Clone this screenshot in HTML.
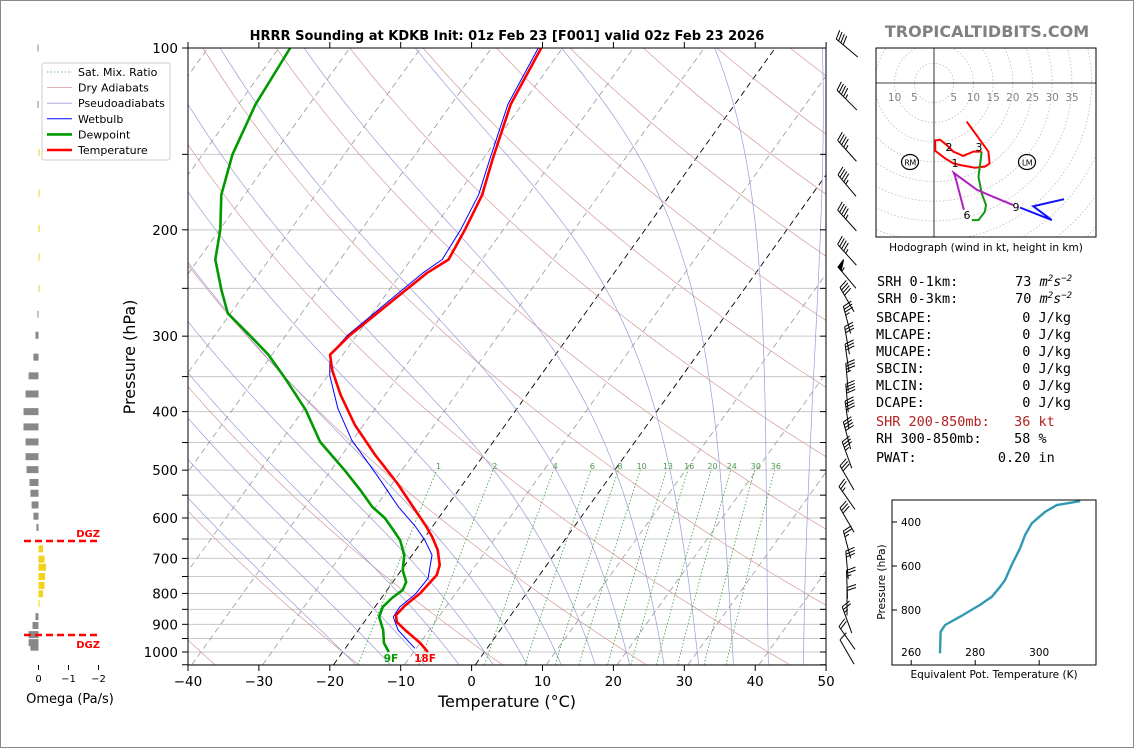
<!DOCTYPE html>
<html><head><meta charset="utf-8"><style>
html,body{margin:0;padding:0;background:#fff;}
svg{display:block;font-family:"DejaVu Sans","Liberation Sans",sans-serif;}
#stats text{white-space:pre;}
</style></head><body>
<svg id="s" width="1134" height="748" viewBox="0 0 1134 748" xmlns="http://www.w3.org/2000/svg">
<defs>
<clipPath id="cm"><rect x="188" y="48" width="638" height="617"/></clipPath>
<clipPath id="ch"><rect x="876" y="48" width="220" height="189"/></clipPath>
<clipPath id="ce"><rect x="892" y="500" width="204" height="165"/></clipPath>
</defs>
<rect x="0.5" y="0.5" width="1133" height="747" fill="#fff" stroke="#888"/>
<text x="507" y="40" text-anchor="middle" font-size="13" font-weight="bold">HRRR Sounding at KDKB Init: 01z Feb 23 [F001] valid 02z Feb 23 2026</text>
<text x="987" y="37" text-anchor="middle" font-size="16" font-weight="bold" fill="#808080">TROPICALTIDBITS.COM</text>
<g id="main"></g>
<g id="omega"></g>
<g id="hodo"></g>
<g id="thetae"></g>
<g id="stats" font-family="'DejaVu Sans Mono','Liberation Mono',monospace" font-size="13.5">
<text x="877" y="286">SRH 0-1km:       73 <tspan font-style="italic">m<tspan font-size="9" dy="-5">2</tspan><tspan dy="5">s</tspan><tspan font-size="9" dy="-5">−2</tspan></tspan></text>
<text x="877" y="303">SRH 0-3km:       70 <tspan font-style="italic">m<tspan font-size="9" dy="-5">2</tspan><tspan dy="5">s</tspan><tspan font-size="9" dy="-5">−2</tspan></tspan></text>
<text x="876" y="322">SBCAPE:           0 J/kg</text>
<text x="876" y="339">MLCAPE:           0 J/kg</text>
<text x="876" y="356">MUCAPE:           0 J/kg</text>
<text x="876" y="373">SBCIN:            0 J/kg</text>
<text x="876" y="390">MLCIN:            0 J/kg</text>
<text x="876" y="407">DCAPE:            0 J/kg</text>
<text x="876" y="426" fill="#b22222">SHR 200-850mb:   36 kt</text>
<text x="876" y="443">RH 300-850mb:    58 %</text>
<text x="876" y="462">PWAT:          0.20 in</text>
</g>
</svg>
<script>
// ---- data ----
const tP=[1000,966,920,892,869,839,799,746,718,678,645,616,571,525,472,421,375,341,322,299,277,256,236,224,200,175,153,124,100];
const tT=[-8.0,-10.0,-13.4,-15.4,-16.2,-15.9,-15.0,-14.5,-15.1,-16.9,-19.0,-21.2,-25.1,-29.4,-35.3,-41.2,-46.3,-50.0,-51.8,-51.0,-49.5,-48.0,-46.4,-44.7,-45.4,-46.5,-48.6,-51.6,-53.0];
const dP=[1000,966,920,875,842,814,790,766,732,691,653,628,600,575,539,500,449,397,352,322,299,275,252,224,200,175,150,124,100];
const dT=[-13.5,-15.1,-16.5,-18.4,-18.9,-18.5,-17.8,-18.1,-19.8,-21.1,-23.2,-25.2,-27.6,-30.5,-33.9,-38.1,-44.4,-49.7,-55.8,-60.5,-65.1,-70.4,-73.6,-77.6,-79.9,-83.3,-85.8,-87.6,-88.4];
const wbP=[986,920,875,842,803,755,691,653,620,575,510,446,395,348,322,299,277,256,236,224,200,175,153,124,100];
const wbT=[-10.2,-14.4,-16.4,-16.5,-15.6,-15.4,-17.2,-19.7,-22.4,-26.8,-33.0,-40.1,-45.3,-49.8,-51.8,-51.3,-49.9,-48.5,-47.0,-45.6,-46.0,-47.0,-49.0,-52.0,-53.4];
const windP=[100,122,148,169,193,220,240,261,282,305,326,351,380,405,438,472,515,556,605,664,718,773,825,885,948,1000];
const windDir=[310,315,318,320,318,318,320,330,345,350,352,355,355,352,345,340,330,325,330,345,355,358,0,340,325,330];
const windSpd=[40,45,45,45,45,45,55,40,35,30,30,35,40,40,40,35,30,25,30,25,30,25,20,25,20,10];
const omegaP=[100,124,149,174,199,222,250,276,299,325,349,374,400,424,449,475,499,524,546,571,596,622,675,702,724,750,776,801,831,874,904,936,965,982];
const omegaV=[0.03,0.03,-0.01,-0.01,-0.01,-0.01,-0.01,0.02,0.1,0.17,0.33,0.43,0.5,0.5,0.43,0.43,0.4,0.3,0.27,0.23,0.17,0.07,-0.15,-0.2,-0.25,-0.22,-0.2,-0.15,-0.03,0.1,0.2,0.33,0.33,0.27];
const mixRatios=[1,2,4,6,8,10,13,16,20,24,30,36];
const tempTicks=[-40,-30,-20,-10,0,10,20,30,40,50];
const presTicks=[100,200,300,400,500,600,700,800,900,1000];
const hodoRed=[[8.3,-9.8],[11.7,-14.5],[13.8,-17.4],[14.1,-20.4],[13.0,-21.2],[10.4,-21.5],[6.6,-20.8],[4.9,-20.4],[2.8,-19.1],[0.3,-17.2],[0.3,-14.6],[1.5,-14.4],[3.2,-15.7],[4.9,-17.4],[7.4,-18.5],[10.0,-17.4],[12.1,-17.4]];
const hodoGreen=[[12.1,-17.4],[11.3,-23.8],[12.1,-28.0],[13.2,-31.0],[12.9,-32.7],[11.3,-34.8],[9.6,-34.8]];
const hodoMag=[[7.6,-32.2],[5.4,-23.8],[5.0,-22.8],[10.9,-27.1],[15.1,-28.9],[20.1,-31.0]];
const hodoBlue=[[21.8,-31.6],[29.9,-34.8],[25.2,-31.3],[33.0,-29.5]];
const thetaP=[997,899,868,830,777,740,694,664,595,520,459,406,353,323,305];
const thetaV=[269.0,269.2,270.6,275.3,281.5,285.2,287.8,289.3,291.4,294.0,295.6,297.7,301.9,305.5,312.8];

const NS="http://www.w3.org/2000/svg";
function mk(tag,attrs,parent){const e=document.createElementNS(NS,tag);for(const k in attrs)e.setAttribute(k,attrs[k]);parent.appendChild(e);return e;}
const yP=p=>48+262.3*Math.log(p/100);
const xT=(T,p)=>188+(T+40)*7.09+(670-yP(p))*0.716;
const pathOf=pts=>pts.map((q,i)=>(i?'L':'M')+q[0].toFixed(1)+' '+q[1].toFixed(1)).join(' ');

const main=document.getElementById('main');
const bg=mk('g',{'clip-path':'url(#cm)'},main);
for(let p=150;p<=1050;p+=50){const l=mk('line',{x1:188,x2:826,y1:yP(p),y2:yP(p),stroke:'#c8c8c8','stroke-width':1},bg);

}
for(let T=-130;T<=50;T+=10){const blk=(T===0||T===-20);const l=mk('line',{x1:xT(T,1050),y1:yP(1050),x2:xT(T,100),y2:yP(100),stroke:blk?'#000':'#999','stroke-width':blk?0.9:0.8,'stroke-dasharray':'6,4'},bg);

}
// dry adiabats every 20 C (at 1000 hPa)
for(let t0=-60;t0<=220;t0+=20){const th=t0+273.15;const pts=[];for(let p=1050;p>=100;p-=10){pts.push([xT(th*Math.pow(p/1000,0.286)-273.15,p),yP(p)]);}
const l=mk('path',{d:pathOf(pts),fill:'none',stroke:'#d49a9a','stroke-width':0.7},bg);

}
// moist adiabats
function grad(T,p){const es=6.112*Math.exp(17.67*(T-273.15)/(T-29.65));const rs=0.622*es/Math.max(p-es,1);return (287*T+2.5e6*rs)/(1004+2.5e6*2.5e6*rs*0.622/(287*T*T))/p;}
for(let T0=-20;T0<=45;T0+=5){let T=T0+273.15;const pts=[];
 for(let p=1000;p<1050;p+=5){T+=grad(T,p)*5;}
 for(let p=1050;p>=100;p-=5){pts.push([xT(T-273.15,p),yP(p)]);T-=grad(T,p)*5;}
 const l=mk('path',{d:pathOf(pts),fill:'none',stroke:'#9a9ad8','stroke-width':0.7},bg);
 
 }
const tdFromW=(w,p)=>{const e=w*p/(622+w);const a=Math.log(e/6.112);return 243.5*a/(17.67-a);};
mixRatios.forEach(w=>{const pts=[];for(let p=1050;p>=500;p-=10)pts.push([xT(tdFromW(w,p),p),yP(p)]);
 const l=mk('path',{d:pathOf(pts),fill:'none',stroke:'#3c9a3c','stroke-width':0.8,'stroke-dasharray':'1.5,2'},bg);
 
 
 const t=mk('text',{x:xT(tdFromW(w,492),492),y:469,'font-size':8,fill:'#4a9a4a','text-anchor':'middle'},bg);t.textContent=w;
 
 });
function prof(P,V,color,w,name){const pts=P.map((p,i)=>[xT(V[i],p),yP(p)]);const l=mk('path',{d:pathOf(pts),fill:'none',stroke:color,'stroke-width':w,'stroke-linejoin':'round'},bg);
 
 }
prof(dP,dT,'#009900',2.6,'dewpoint-line');
prof(wbP,wbT,'#0000ff',1,'wetbulb-line');
prof(tP,tT,'#ff0000',2.6,'temperature-line');
const fr=mk('rect',{x:188,y:48,width:638,height:617,fill:'none',stroke:'#000','stroke-width':1},main);


for(let p=100;p<=1050;p+=50){const y=yP(p);if(y>665)continue;
 const t1=mk('line',{x1:182,x2:188,y1:y,y2:y,stroke:'#000'},main);
 
 
 const t2=mk('line',{x1:820,x2:826,y1:y,y2:y,stroke:'#000'},main);
 
 }
presTicks.forEach(p=>{const t=mk('text',{x:178,y:yP(p)+5,'font-size':13.5,'text-anchor':'end'},main);t.textContent=p;
 
 });
tempTicks.forEach(T=>{const x=188+(T+40)*7.09;
 const l=mk('line',{x1:x,x2:x,y1:665,y2:671,stroke:'#000'},main);
 
 
 const l2=mk('line',{x1:x,x2:x,y1:42,y2:48,stroke:'#000'},main);
 
 
 const t=mk('text',{x:x,y:686,'font-size':13.5,'text-anchor':'middle'},main);t.textContent=(T<0?'−':'')+Math.abs(T);
 
 });
let tx=mk('text',{x:507,y:707,'font-size':16,'text-anchor':'middle'},main);tx.textContent='Temperature (°C)';


tx=mk('text',{x:135,y:357,'font-size':16,'text-anchor':'middle',transform:'rotate(-90 135 357)'},main);tx.textContent='Pressure (hPa)';


tx=mk('text',{x:391,y:662,'font-size':10.5,'font-weight':'bold',fill:'#009900','text-anchor':'middle'},main);tx.textContent='9F';


tx=mk('text',{x:425,y:662,'font-size':10.5,'font-weight':'bold',fill:'#ff0000','text-anchor':'middle'},main);tx.textContent=Math.round(tT[0]*9/5+32)+'F';


const lg=mk('g',{},main);


mk('rect',{x:42,y:63,width:128,height:97,fill:'#fff',stroke:'#ccc',rx:2},lg);
[['Sat. Mix. Ratio','#3c9a3c',0.8,'1.5,2'],['Dry Adiabats','#d49a9a',0.8,''],['Pseudoadiabats','#9a9ad8',0.8,''],['Wetbulb','#0000ff',1,''],['Dewpoint','#009900',2.6,''],['Temperature','#ff0000',2.6,'']].forEach((e,i)=>{const y=72+i*15.6;
 const g=mk('g',{},lg);
 
 
 mk('line',{x1:47,x2:72,y1:y,y2:y,stroke:e[1],'stroke-width':e[2],'stroke-dasharray':e[3]},g);
 const t=mk('text',{x:78,y:y+4,'font-size':11},g);t.textContent=e[0];});
const wb=mk('g',{stroke:'#000','stroke-width':1,fill:'#000'},main);


windP.forEach((p,i)=>{const th=windDir[i]*Math.PI/180;const ux=Math.sin(th),uy=-Math.cos(th);const L=28;
 const cx=847,cy=yP(p);const bx=cx-ux*L/2,by=cy-uy*L/2;const ex=bx+ux*L,ey=by+uy*L;
 const g=mk('g',{},wb);
 
 
 mk('line',{x1:bx,y1:by,x2:ex,y2:ey},g);
 const px=-uy,py=ux;let s=windSpd[i];let d=0;
 while(s>=50){const ax=ex-ux*d,ay=ey-uy*d;mk('path',{d:`M${ax} ${ay}L${ax+px*9+ux*2} ${ay+py*9+uy*2}L${ax-ux*5} ${ay-uy*5}Z`},g);d+=6;s-=50;}
 while(s>=10){const ax=ex-ux*d,ay=ey-uy*d;mk('line',{x1:ax,y1:ay,x2:ax+px*9+ux*3,y2:ay+py*9+uy*3},g);d+=3;s-=10;}
 if(s>=5){if(d===0)d=3;const ax=ex-ux*d,ay=ey-uy*d;mk('line',{x1:ax,y1:ay,x2:ax+px*4.5+ux*1.5,y2:ay+py*4.5+uy*1.5},g);}
});

const om=document.getElementById('omega');
omegaP.forEach((p,i)=>{const v=omegaV[i];const w=Math.max(Math.abs(v)*30,1);const x=v>0?38.5-w:38.5;
 const r=mk('rect',{x:x,y:yP(p)-3.5,width:w,height:7,fill:v>0?'#888':'#f2d21b'},om);
 
 });
[541,635].forEach((y,i)=>{const l=mk('line',{x1:24,x2:99,y1:y,y2:y,stroke:'#ff0000','stroke-width':2.5,'stroke-dasharray':'7,4'},om);
 
 
 const t=mk('text',{x:100,y:i?648:537,'font-size':10,'font-weight':'bold',fill:'#ff0000','text-anchor':'end'},om);t.textContent='DGZ';
 
 });
[0,-1,-2].forEach(v=>{const x=38.5-v*30;mk('line',{x1:x,x2:x,y1:665,y2:670,stroke:'#000'},om);
 const t=mk('text',{x:x,y:682,'font-size':10,'text-anchor':'middle'},om);t.textContent=v===0?'0':'−'+Math.abs(v);
 
 });
tx=mk('text',{x:70,y:703,'font-size':13,'text-anchor':'middle'},om);tx.textContent='Omega (Pa/s)';



const hd=document.getElementById('hodo');const hx=934,hy=83,hk=3.94;
const hc=mk('g',{'clip-path':'url(#ch)'},hd);
for(let k=1;k<=16;k++){const c=mk('circle',{cx:hx,cy:hy,r:k*5*hk,fill:'none',stroke:'#bbb','stroke-width':0.8,'stroke-dasharray':'1.5,2'},hc);
 
 }
mk('line',{x1:876,x2:1096,y1:hy,y2:hy,stroke:'#000','stroke-width':0.8},hc);
mk('line',{x1:hx,x2:hx,y1:48,y2:237,stroke:'#000','stroke-width':0.8},hc);
[-10,-5,5,10,15,20,25,30,35].forEach(v=>{const t=mk('text',{x:hx+v*hk,y:101,'font-size':10.5,fill:'#808080','text-anchor':'middle'},hd);t.textContent=Math.abs(v);
 
 });
[[hodoRed,'#ff0000','hodo-0-3km'],[hodoGreen,'#119911','hodo-3-6km'],[hodoMag,'#b020c0','hodo-6-9km'],[hodoBlue,'#1010ff','hodo-9-12km']].forEach(s=>{
 const l=mk('path',{d:pathOf(s[0].map(q=>[hx+q[0]*hk,hy-q[1]*hk])),fill:'none',stroke:s[1],'stroke-width':2},hc);
 
 });
[['1',955,167],['2',949,151],['3',979,151],['6',967,219],['9',1016,211]].forEach(a=>{const t=mk('text',{x:a[1],y:a[2],'font-size':11,'text-anchor':'middle'},hd);t.textContent=a[0];
 
 });
[['RM',910],['LM',1027]].forEach(a=>{const g=mk('g',{},hd);
 
 
 mk('ellipse',{cx:a[1],cy:162,rx:8.5,ry:7.5,fill:'none',stroke:'#000','stroke-width':1.2},g);
 const t=mk('text',{x:a[1],y:165.5,'font-size':8,'text-anchor':'middle','letter-spacing':'-0.5'},g);t.textContent=a[0];});
mk('rect',{x:876,y:48,width:220,height:189,fill:'none',stroke:'#000'},hd);
tx=mk('text',{x:986,y:251,'font-size':10.5,'text-anchor':'middle'},hd);tx.textContent='Hodograph (wind in kt, height in km)';



const te=document.getElementById('thetae');
const exT=v=>892+(v-254)*3.2, eyP=p=>522+(p-400)*0.22;
const ec=mk('g',{'clip-path':'url(#ce)'},te);
const ln=mk('path',{d:pathOf(thetaP.map((p,i)=>[exT(thetaV[i]),eyP(p)])),fill:'none',stroke:'#3399b3','stroke-width':2.4,'stroke-linejoin':'round'},ec);


mk('rect',{x:892,y:500,width:204,height:165,fill:'none',stroke:'#000'},te);
[400,600,800].forEach(p=>{mk('line',{x1:892,x2:897,y1:eyP(p),y2:eyP(p),stroke:'#000'},te);
 const t=mk('text',{x:901,y:eyP(p)+4,'font-size':10.5},te);t.textContent=p;
 
 });
[260,280,300].forEach(v=>{mk('line',{x1:exT(v),x2:exT(v),y1:665,y2:660,stroke:'#000'},te);
 const t=mk('text',{x:exT(v),y:656,'font-size':10.5,'text-anchor':'middle'},te);t.textContent=v;
 
 });
tx=mk('text',{x:994,y:678,'font-size':10.5,'text-anchor':'middle'},te);tx.textContent='Equivalent Pot. Temperature (K)';


tx=mk('text',{x:885,y:582,'font-size':10.5,'text-anchor':'middle',transform:'rotate(-90 885 582)'},te);tx.textContent='Pressure (hPa)';


</script>
</body></html>
